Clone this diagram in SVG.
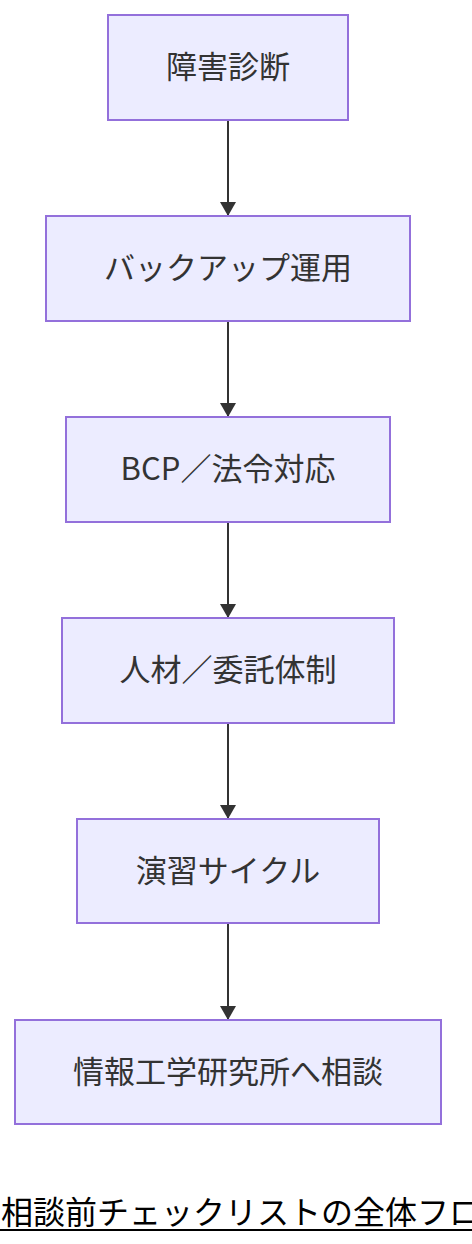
<svg xmlns="http://www.w3.org/2000/svg" width="472" height="1244" viewBox="0 0 472 1244">
<defs>
<style>
.node rect{fill:#ECECFF;stroke:#9370DB;stroke-width:2}
.node text{font-family:"Noto Sans CJK JP","Noto Sans",sans-serif;font-size:31px;fill:#333;text-anchor:middle;dominant-baseline:central}
.edge{stroke:#333;stroke-width:2;fill:none}
.cap{font-family:"Noto Sans CJK JP","Noto Sans",sans-serif;font-size:32px;fill:#000}
</style>
<marker id="arrow" viewBox="0 0 10 10" refX="10" refY="5" markerWidth="14" markerHeight="16" preserveAspectRatio="none" markerUnits="userSpaceOnUse" orient="auto">
<path d="M0,0 L10,5 L0,10 z" fill="#333"/>
</marker>
</defs>
<rect width="472" height="1244" fill="#ffffff"/>
<g id="edges">
<line class="edge" x1="228" y1="120" x2="228" y2="216" marker-end="url(#arrow)"/>
<line class="edge" x1="228" y1="321" x2="228" y2="417" marker-end="url(#arrow)"/>
<line class="edge" x1="228" y1="522" x2="228" y2="618" marker-end="url(#arrow)"/>
<line class="edge" x1="228" y1="723" x2="228" y2="819" marker-end="url(#arrow)"/>
<line class="edge" x1="228" y1="923" x2="228" y2="1020" marker-end="url(#arrow)"/>
</g>
<g id="n1" class="node"><rect x="108" y="15" width="240" height="105"/><text x="228" y="64">障害診断</text></g>
<g id="n2" class="node"><rect x="46" y="216" width="364" height="105"/><text x="228" y="265">バックアップ運用</text></g>
<g id="n3" class="node"><rect x="66" y="417" width="324" height="105"/><text x="228" y="466">BCP／法令対応</text></g>
<g id="n4" class="node"><rect x="62" y="618" width="332" height="105"/><text x="228" y="667">人材／委託体制</text></g>
<g id="n5" class="node"><rect x="77" y="819" width="302" height="104"/><text x="228" y="868">演習サイクル</text></g>
<g id="n6" class="node"><rect x="15" y="1020" width="426" height="104"/><text x="228" y="1069">情報工学研究所へ相談</text></g>
<g id="caption">
<text class="cap" x="1" y="1224">相談前チェックリストの全体フロ</text>
<line x1="0" y1="1230" x2="472" y2="1230" stroke="#000" stroke-width="2"/>
</g>
</svg>
